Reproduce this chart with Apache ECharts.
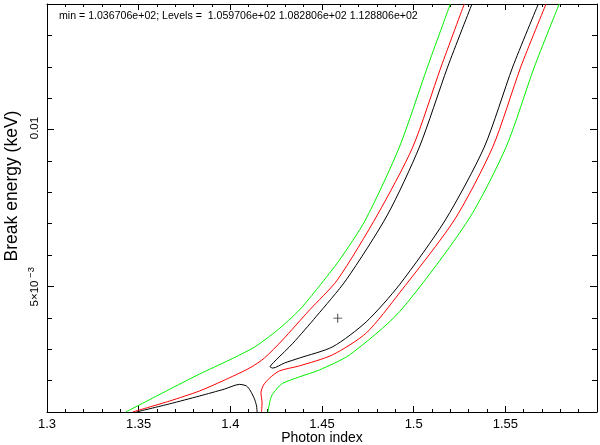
<!DOCTYPE html>
<html>
<head>
<meta charset="utf-8">
<script src="https://cdn.jsdelivr.net/npm/echarts/dist/echarts.min.js"></script>
<style>html,body{margin:0;padding:0;background:#fff;}#c{width:600px;height:445px;}</style>
</head>
<body>
<div id="c"></div>
<script>
// ---- data (x = photon index, y = break energy keV) ----
const headerText = 'min = 1.036706e+02; Levels =  1.059706e+02 1.082806e+02 1.128806e+02';
const xTitle = 'Photon index';
const yTitle = 'Break energy (keV)';
const yLabelValues = [0.005, 0.01];
const yLabelMain = ['5\u00d710', '0.01'];
const yLabelSup = ['\u22123', ''];

const greenLeft = [[1.3430,0.0010],[1.3651,0.00167],[1.3832,0.00221],[1.3996,0.00266],[1.4132,0.00307],[1.4257,0.00361],[1.4377,0.00425],[1.4481,0.00498],[1.4595,0.00584],[1.4737,0.00712],[1.4922,0.00944],[1.5075,0.01199],[1.5200,0.0140]];
const redLeft = [[1.3467,0.0010],[1.3669,0.00135],[1.3832,0.00167],[1.3958,0.00199],[1.4105,0.00240],[1.4186,0.00272],[1.4284,0.00329],[1.4432,0.00425],[1.4584,0.00521],[1.4802,0.00728],[1.4995,0.00944],[1.5149,0.01199],[1.5276,0.0140]];
const blackLoop = [[1.5318,0.0140],[1.5185,0.01199],[1.5031,0.00944],[1.4857,0.00728],[1.4632,0.00521],[1.4468,0.00404],[1.4341,0.00319],[1.4250,0.00266],[1.4223,0.00250],[1.4217,0.00244],[1.4232,0.00240],[1.4295,0.00256],[1.4377,0.00272],[1.4559,0.00308],[1.4741,0.00387],[1.4922,0.00505],[1.5173,0.00712],[1.5385,0.00944],[1.5540,0.01199],[1.5680,0.0140]];
const blackLower = [[1.3487,0.0010],[1.3669,0.00126],[1.3832,0.00151],[1.3968,0.00173],[1.4050,0.00188],[1.4088,0.00183],[1.4110,0.00167],[1.4132,0.00141],[1.4143,0.00119],[1.4146,0.0010]];
const redRight = [[1.5722,0.0140],[1.5584,0.01199],[1.5431,0.00944],[1.5222,0.00712],[1.4922,0.00479],[1.4742,0.00352],[1.4557,0.00282],[1.4377,0.00247],[1.4268,0.00231],[1.4214,0.00208],[1.4181,0.00186],[1.4167,0.00161],[1.4173,0.00129],[1.4170,0.0010]];
const greenRight = [[1.5794,0.0140],[1.5658,0.01199],[1.5504,0.00944],[1.5298,0.00712],[1.4922,0.00419],[1.4650,0.00282],[1.4486,0.00234],[1.4377,0.00212],[1.4284,0.00191],[1.4252,0.00173],[1.4225,0.00151],[1.4214,0.00129],[1.4205,0.0010]];
const bestFit = [[1.4586,0.00399]];

const FONT = '"Liberation Sans", Arial, Helvetica, sans-serif';
const chart = echarts.init(document.getElementById('c'), null, {renderer:'canvas'});

function lineSeries(data, color){
  return {type:'line', data:data, xAxisIndex:0, yAxisIndex:0, showSymbol:false, smooth:0.25,
    lineStyle:{color:color, width:1}, silent:true, animation:false, clip:true};
}
const axLine = {show:true, lineStyle:{color:'#000', width:1}};
const X = {min:1.3, max:1.6, interval:0.05};
const Y = {min:0.001, max:0.014};

const option = {
  animation:false,
  backgroundColor:'#fff',
  grid:{left:47, right:3, top:4, bottom:33, containLabel:false},
  xAxis:[
    {type:'value', position:'bottom', ...X, axisLine:axLine,
     axisTick:{show:true, inside:true, length:6, lineStyle:{color:'#000'}},
     minorTick:{show:true, splitNumber:5, length:3, lineStyle:{color:'#000'}},
     splitLine:{show:false}, minorSplitLine:{show:false},
     axisLabel:{show:true, showMaxLabel:false, margin:6, color:'#000', fontSize:13, fontFamily:FONT,
       formatter:v=>String(parseFloat(v.toFixed(2)))}},
    {type:'value', position:'top', ...X, axisLine:axLine,
     axisTick:{show:true, inside:true, length:6, lineStyle:{color:'#000'}},
     minorTick:{show:true, splitNumber:5, length:3, lineStyle:{color:'#000'}},
     splitLine:{show:false}, axisLabel:{show:false}}
  ],
  yAxis:[
    {type:'value', position:'left', ...Y, interval:0.001, axisLine:axLine,
     axisTick:{show:true, inside:true, length:5, lineStyle:{color:'#000'}},
     splitLine:{show:false}, axisLabel:{show:false}},
    {type:'value', position:'right', ...Y, interval:0.001, axisLine:axLine,
     axisTick:{show:true, inside:true, length:5, lineStyle:{color:'#000'}},
     splitLine:{show:false}, axisLabel:{show:false}},
    {type:'value', position:'left', ...Y, interval:0.001, axisLine:{show:false},
     axisTick:{show:true, inside:true, length:7, customValues:yLabelValues, lineStyle:{color:'#000'}},
     splitLine:{show:false}, axisLabel:{show:false}},
    {type:'value', position:'right', ...Y, interval:0.001, axisLine:{show:false},
     axisTick:{show:true, inside:true, length:7, customValues:yLabelValues, lineStyle:{color:'#000'}},
     splitLine:{show:false}, axisLabel:{show:false}}
  ],
  graphic:[
    {type:'text', left:59, top:11, silent:true,
     style:{text:headerText, fill:'#000', font:'10.6px '+FONT}},
    {type:'text', x:322, y:438, silent:true,
     style:{text:xTitle, fill:'#000', font:'14px '+FONT, textAlign:'center', textVerticalAlign:'middle'}},
    {type:'text', x:12, y:186, rotation:Math.PI/2, silent:true,
     style:{text:yTitle, fill:'#000', font:'17.5px '+FONT, textAlign:'center', textVerticalAlign:'middle'}}
  ],
  series:[
    lineSeries(greenLeft,'#00f000'),
    lineSeries(greenRight,'#00f000'),
    lineSeries(redLeft,'#ff0000'),
    lineSeries(redRight,'#ff0000'),
    lineSeries(blackLoop,'#000000'),
    lineSeries(blackLower,'#000000'),
    {type:'scatter', data:bestFit, xAxisIndex:0, yAxisIndex:0, symbol:'path://M4.5,0H5.5V4.5H10V5.5H5.5V10H4.5V5.5H0V4.5H4.5Z',
     symbolSize:9, itemStyle:{color:'#000'}, silent:true}
  ]
};
chart.setOption(option);

// y tick labels (rotated, with a superscript exponent), placed at the tick values via the chart's own scale
const yLabelGraphics = [];
yLabelValues.forEach((v,i)=>{
  const py = chart.convertToPixel({yAxisIndex:0}, v);
  const hasSup = yLabelSup[i] !== '';
  yLabelGraphics.push({type:'text', x:34.5, y: hasSup ? py + 7 : py - 1.5, rotation:Math.PI/2, silent:true,
    style:{text:yLabelMain[i], fill:'#000', font:'11.5px '+FONT, textAlign:'center', textVerticalAlign:'middle'}});
  if (hasSup) {
    yLabelGraphics.push({type:'text', x:31, y:py - 14, rotation:Math.PI/2, silent:true,
      style:{text:yLabelSup[i], fill:'#000', font:'9.5px '+FONT, textAlign:'center', textVerticalAlign:'middle'}});
  }
});
chart.setOption({graphic: option.graphic.concat(yLabelGraphics)});
</script>
</body>
</html>
